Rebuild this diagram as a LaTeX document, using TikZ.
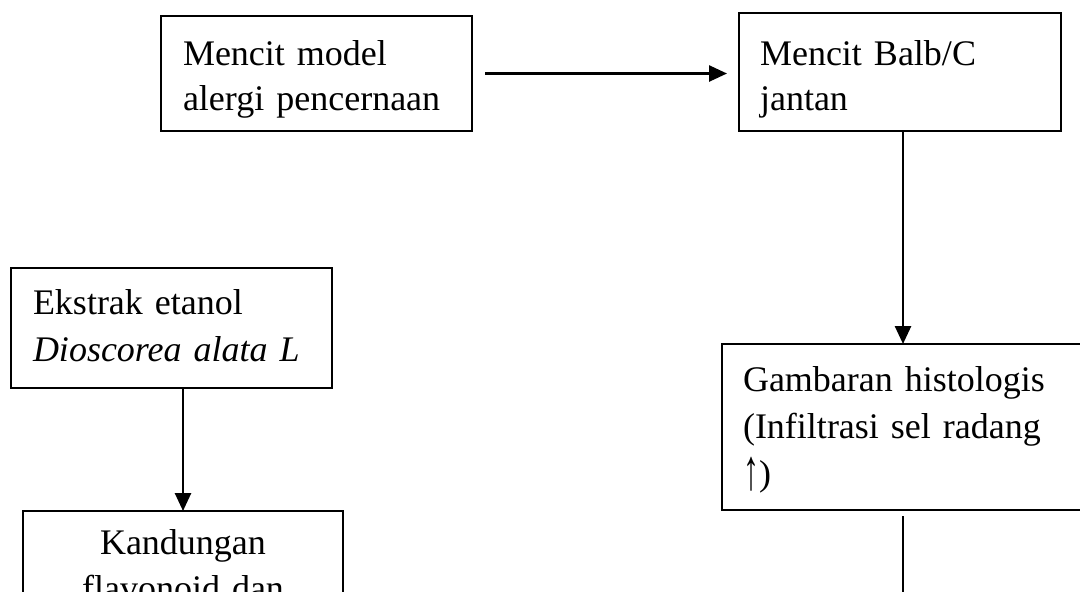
\documentclass[tikz,border=0pt]{standalone}
\usepackage{fontspec}
\setmainfont{Liberation Serif}
\usetikzlibrary{arrows.meta}
\newcommand{\tallup}{\raisebox{-3.25pt}{\resizebox*{8pt}{17pt}{\raisebox{\depth}{\textbf{↑}}}}}
\begin{document}
\begin{tikzpicture}[x=0.5pt,y=-0.5pt,
  box/.style={draw, line width=1.3pt, inner ysep=0pt, inner xsep=11pt, outer sep=0pt,
    anchor=base west},
  arr/.style={line width=1.3pt, -{Triangle[length=9pt,width=8pt]}},
  ln/.style={line width=1.3pt}]
\useasboundingbox (0,0) rectangle (1080,591);
\clip (0,0) rectangle (1080,591);
% top row
\node[box, text width=133.5pt, text height=24.5pt, text depth=33pt,
  font=\fontsize{18}{22.5}\selectfont] (m1) at (161,65) {Mencit model\\alergi pencernaan};
\node[box, inner xsep=10.5pt, text width=140pt, text height=26pt, text depth=33pt,
  font=\fontsize{18}{22.5}\selectfont] (m2) at (739,65) {Mencit Balb/C\\jantan};
% right column
\node[box, inner xsep=10.5pt, text width=168pt, text height=23.5pt, text depth=59.5pt,
  font=\fontsize{18}{23.5}\selectfont] (g) at (722,391) {Gambaran histologis\\(Infiltrasi sel radang\\\tallup)};
% left column
\node[box, text width=138.5pt, text height=23pt, text depth=37pt,
  font=\fontsize{18}{23.5}\selectfont] (e) at (11,314) {Ekstrak etanol\\\textit{Dioscorea alata L}};
\node[box, text width=138pt, text height=21.5pt, text depth=73pt,
  font=\fontsize{18}{23}\selectfont] (k) at (23,554) {\centering Kandungan\\flavonoid dan\par};
% connectors
\draw[arr, shorten <=6.5pt, shorten >=6pt] (m1.east) -- (m1.east -| m2.west);
\draw[arr] ([xshift=1.5pt]m2.south) -- ([xshift=1.5pt]m2.south |- g.north);
\draw[arr] (k.north |- e.south) -- (k.north);
\coordinate (gend) at (903,620);
\draw[ln] ([yshift=-3pt]g.south -| gend) -- (gend);
\end{tikzpicture}
\end{document}
